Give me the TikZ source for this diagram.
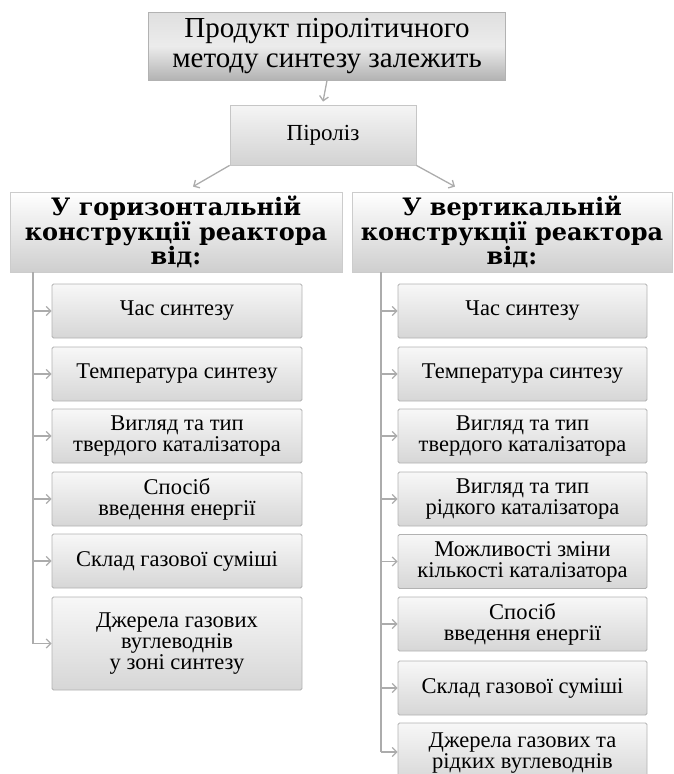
\documentclass[tikz,border=0pt]{standalone}
\usepackage{fontspec}
\setmainfont{Liberation Serif}
\newfontfamily\hdrfont{DejaVu Serif}
\usetikzlibrary{arrows.meta,calc}
\begin{document}
\begin{tikzpicture}[x=1pt,y=-1pt,
  every node/.style={align=center,inner sep=2pt,text=black},
  topbox/.style={draw=gray!60,line width=0.8pt,top color=gray!25,bottom color=gray!60,middle color=gray!15,
    minimum width=357pt,minimum height=68pt,font=\fontsize{29}{29.5}\selectfont},
  pirbox/.style={draw=gray!45,line width=0.8pt,top color=gray!8,bottom color=gray!35,
    minimum width=186pt,minimum height=60pt,font=\fontsize{23}{21}\selectfont},
  hdrbox/.style={draw=gray!40,line width=0.8pt,top color=white,bottom color=gray!38,
    minimum height=80pt,font=\hdrfont\bfseries\fontsize{24}{23.5}\selectfont},
  itembox/.style={draw=gray!60,line width=0.8pt,rounded corners=1.5pt,top color=gray!6,bottom color=gray!32,
    minimum width=250pt,minimum height=54pt,font=\fontsize{22.5}{21}\selectfont},
  conn/.style={draw=gray!65,line width=1.3pt},
  arr/.style={conn,-{Straight Barb[length=4.5pt,width=9pt,line width=1.3pt]}}
]
\useasboundingbox (0,0) rectangle (674,774);
\clip (0,0) rectangle (674,774);

\node[topbox] (top) at (327,46) {Продукт піролітичного\\методу синтезу залежить};
\node[pirbox] (pir) at (323,135) {Піроліз};
\node[hdrbox,minimum width=332pt] (hL) at (176,232) {У горизонтальній\\конструкції реактора\\від:};
\node[hdrbox,minimum width=320pt] (hR) at (512,232) {У вертикальній\\конструкції реактора\\від:};

\draw[arr] (top.south) -- ([yshift=3pt]pir.north);
\draw[arr] (pir.south west) -- ([xshift=17pt,yshift=5pt]hL.north);
\draw[arr] (pir.south east) -- ([xshift=-57pt,yshift=5pt]hR.north);

% left column
\node[itembox] (l1) at (177,311) {Час синтезу};
\node[itembox] (l2) at (177,374) {Температура синтезу};
\node[itembox] (l3) at (177,436) {Вигляд та тип\\твердого каталізатора};
\node[itembox] (l4) at (177,499) {Спосіб\\введення енергії};
\node[itembox] (l5) at (177,561) {Склад газової суміші};
\node[itembox,minimum height=93pt] (l6) at (177,643.5) {Джерела газових\\вуглеводнів\\у зоні синтезу};

\coordinate (tl) at (33,272);
\draw[conn] (tl) -- (tl |- l6.west);
\foreach \n in {l1,l2,l3,l4,l5,l6}{
  \draw[arr] (tl |- \n.west) -- (\n.west);
}

% right column
\node[itembox,minimum width=249pt] (r1) at (522.5,311) {Час синтезу};
\node[itembox,minimum width=249pt] (r2) at (522.5,374) {Температура синтезу};
\node[itembox,minimum width=249pt] (r3) at (522.5,436) {Вигляд та тип\\твердого каталізатора};
\node[itembox,minimum width=249pt] (r4) at (522.5,499) {Вигляд та тип\\рідкого каталізатора};
\node[itembox,minimum width=249pt] (r5) at (522.5,561.5) {Можливості зміни\\кількості каталізатора};
\node[itembox,minimum width=249pt] (r6) at (522.5,624) {Спосіб\\введення енергії};
\node[itembox,minimum width=249pt] (r7) at (522.5,688) {Склад газової суміші};
\node[itembox,minimum width=249pt,minimum height=60pt] (r8) at (522.5,753) {Джерела газових та\\рідких вуглеводнів};

\coordinate (tr) at (381,272);
\draw[conn] (tr) -- ([yshift=1pt]tr |- r8.west);
\foreach \n in {r1,r2,r3,r4,r5,r6,r7}{
  \draw[arr] (tr |- \n.west) -- (\n.west);
}
\draw[arr] ([yshift=1pt]tr |- r8.west) -- ([yshift=1pt]r8.west);
\end{tikzpicture}
\end{document}
